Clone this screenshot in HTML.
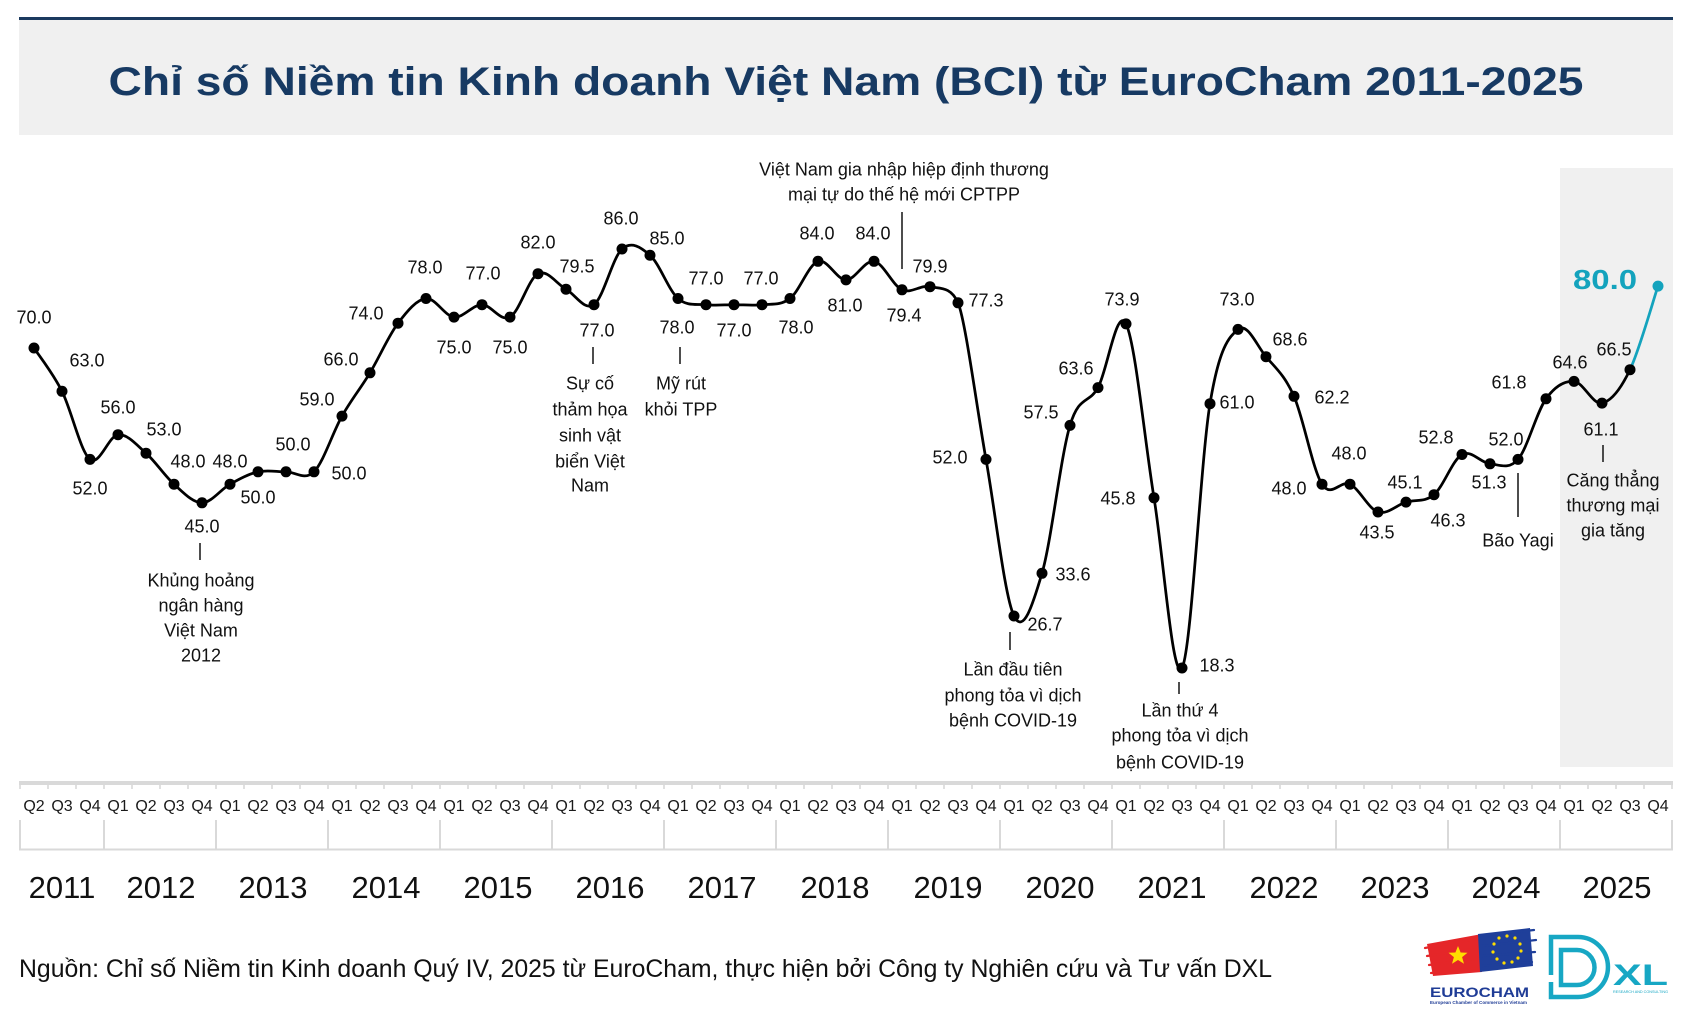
<!DOCTYPE html>
<html>
<head>
<meta charset="utf-8">
<style>
html,body{margin:0;padding:0;background:#fff;}
svg{display:block;}
.lbl{font-family:"Liberation Sans",Arial,sans-serif;font-size:18px;fill:#111;text-anchor:middle;}
.ann{font-family:"Liberation Sans",Arial,sans-serif;font-size:18px;fill:#111;text-anchor:middle;}
.q{font-family:"Liberation Sans",Arial,sans-serif;font-size:16px;fill:#1a1a1a;text-anchor:middle;}
.yr{font-family:"Liberation Sans",Arial,sans-serif;font-size:31px;fill:#111;text-anchor:middle;}
</style>
</head>
<body>
<svg width="1693" height="1023" viewBox="0 0 1693 1023" xmlns="http://www.w3.org/2000/svg">
<rect x="0" y="0" width="1693" height="1023" fill="#ffffff"/>
<!-- header -->
<rect x="19" y="17" width="1654" height="3" fill="#1b3a5f"/>
<rect x="19" y="20" width="1654" height="115" fill="#f0f0f0"/>
<text x="846" y="95" font-family="'Liberation Sans',Arial,sans-serif" font-size="40" font-weight="bold" fill="#173a63" text-anchor="middle" textLength="1475" lengthAdjust="spacingAndGlyphs">Chỉ số Niềm tin Kinh doanh Việt Nam (BCI) từ EuroCham 2011-2025</text>

<!-- 2025 shading -->
<rect x="1560" y="168" width="113" height="599" fill="#f0f0f0"/>

<!-- axis band -->
<rect x="19" y="781" width="1654" height="4" fill="#d9d9d9"/>
<g stroke="#d9d9d9" stroke-width="1.6">
<line x1="20" y1="784" x2="20" y2="789"/><line x1="48" y1="784" x2="48" y2="789"/><line x1="76" y1="784" x2="76" y2="789"/><line x1="104" y1="784" x2="104" y2="789"/><line x1="132" y1="784" x2="132" y2="789"/><line x1="160" y1="784" x2="160" y2="789"/><line x1="188" y1="784" x2="188" y2="789"/><line x1="216" y1="784" x2="216" y2="789"/><line x1="244" y1="784" x2="244" y2="789"/><line x1="272" y1="784" x2="272" y2="789"/><line x1="300" y1="784" x2="300" y2="789"/><line x1="328" y1="784" x2="328" y2="789"/><line x1="356" y1="784" x2="356" y2="789"/><line x1="384" y1="784" x2="384" y2="789"/><line x1="412" y1="784" x2="412" y2="789"/><line x1="440" y1="784" x2="440" y2="789"/><line x1="468" y1="784" x2="468" y2="789"/><line x1="496" y1="784" x2="496" y2="789"/><line x1="524" y1="784" x2="524" y2="789"/><line x1="552" y1="784" x2="552" y2="789"/><line x1="580" y1="784" x2="580" y2="789"/><line x1="608" y1="784" x2="608" y2="789"/><line x1="636" y1="784" x2="636" y2="789"/><line x1="664" y1="784" x2="664" y2="789"/><line x1="692" y1="784" x2="692" y2="789"/><line x1="720" y1="784" x2="720" y2="789"/><line x1="748" y1="784" x2="748" y2="789"/><line x1="776" y1="784" x2="776" y2="789"/><line x1="804" y1="784" x2="804" y2="789"/><line x1="832" y1="784" x2="832" y2="789"/><line x1="860" y1="784" x2="860" y2="789"/><line x1="888" y1="784" x2="888" y2="789"/><line x1="916" y1="784" x2="916" y2="789"/><line x1="944" y1="784" x2="944" y2="789"/><line x1="972" y1="784" x2="972" y2="789"/><line x1="1000" y1="784" x2="1000" y2="789"/><line x1="1028" y1="784" x2="1028" y2="789"/><line x1="1056" y1="784" x2="1056" y2="789"/><line x1="1084" y1="784" x2="1084" y2="789"/><line x1="1112" y1="784" x2="1112" y2="789"/><line x1="1140" y1="784" x2="1140" y2="789"/><line x1="1168" y1="784" x2="1168" y2="789"/><line x1="1196" y1="784" x2="1196" y2="789"/><line x1="1224" y1="784" x2="1224" y2="789"/><line x1="1252" y1="784" x2="1252" y2="789"/><line x1="1280" y1="784" x2="1280" y2="789"/><line x1="1308" y1="784" x2="1308" y2="789"/><line x1="1336" y1="784" x2="1336" y2="789"/><line x1="1364" y1="784" x2="1364" y2="789"/><line x1="1392" y1="784" x2="1392" y2="789"/><line x1="1420" y1="784" x2="1420" y2="789"/><line x1="1448" y1="784" x2="1448" y2="789"/><line x1="1476" y1="784" x2="1476" y2="789"/><line x1="1504" y1="784" x2="1504" y2="789"/><line x1="1532" y1="784" x2="1532" y2="789"/><line x1="1560" y1="784" x2="1560" y2="789"/><line x1="1588" y1="784" x2="1588" y2="789"/><line x1="1616" y1="784" x2="1616" y2="789"/><line x1="1644" y1="784" x2="1644" y2="789"/><line x1="1672" y1="784" x2="1672" y2="789"/>
</g>

<!-- year boxes -->
<g stroke="#d9d9d9" stroke-width="2">
<line x1="19" y1="849.5" x2="1673" y2="849.5"/>
<line x1="20" y1="820" x2="20" y2="850"/><line x1="104" y1="820" x2="104" y2="850"/><line x1="216" y1="820" x2="216" y2="850"/><line x1="328" y1="820" x2="328" y2="850"/><line x1="440" y1="820" x2="440" y2="850"/><line x1="552" y1="820" x2="552" y2="850"/><line x1="664" y1="820" x2="664" y2="850"/><line x1="776" y1="820" x2="776" y2="850"/><line x1="888" y1="820" x2="888" y2="850"/><line x1="1000" y1="820" x2="1000" y2="850"/><line x1="1112" y1="820" x2="1112" y2="850"/><line x1="1224" y1="820" x2="1224" y2="850"/><line x1="1336" y1="820" x2="1336" y2="850"/><line x1="1448" y1="820" x2="1448" y2="850"/><line x1="1560" y1="820" x2="1560" y2="850"/><line x1="1672" y1="820" x2="1672" y2="850"/>
</g>

<!-- quarter labels -->
<g class="q">
<text class="q" x="34" y="811">Q2</text><text class="q" x="62" y="811">Q3</text><text class="q" x="90" y="811">Q4</text>
<text class="q" x="118" y="811">Q1</text><text class="q" x="146" y="811">Q2</text><text class="q" x="174" y="811">Q3</text><text class="q" x="202" y="811">Q4</text>
<text class="q" x="230" y="811">Q1</text><text class="q" x="258" y="811">Q2</text><text class="q" x="286" y="811">Q3</text><text class="q" x="314" y="811">Q4</text>
<text class="q" x="342" y="811">Q1</text><text class="q" x="370" y="811">Q2</text><text class="q" x="398" y="811">Q3</text><text class="q" x="426" y="811">Q4</text>
<text class="q" x="454" y="811">Q1</text><text class="q" x="482" y="811">Q2</text><text class="q" x="510" y="811">Q3</text><text class="q" x="538" y="811">Q4</text>
<text class="q" x="566" y="811">Q1</text><text class="q" x="594" y="811">Q2</text><text class="q" x="622" y="811">Q3</text><text class="q" x="650" y="811">Q4</text>
<text class="q" x="678" y="811">Q1</text><text class="q" x="706" y="811">Q2</text><text class="q" x="734" y="811">Q3</text><text class="q" x="762" y="811">Q4</text>
<text class="q" x="790" y="811">Q1</text><text class="q" x="818" y="811">Q2</text><text class="q" x="846" y="811">Q3</text><text class="q" x="874" y="811">Q4</text>
<text class="q" x="902" y="811">Q1</text><text class="q" x="930" y="811">Q2</text><text class="q" x="958" y="811">Q3</text><text class="q" x="986" y="811">Q4</text>
<text class="q" x="1014" y="811">Q1</text><text class="q" x="1042" y="811">Q2</text><text class="q" x="1070" y="811">Q3</text><text class="q" x="1098" y="811">Q4</text>
<text class="q" x="1126" y="811">Q1</text><text class="q" x="1154" y="811">Q2</text><text class="q" x="1182" y="811">Q3</text><text class="q" x="1210" y="811">Q4</text>
<text class="q" x="1238" y="811">Q1</text><text class="q" x="1266" y="811">Q2</text><text class="q" x="1294" y="811">Q3</text><text class="q" x="1322" y="811">Q4</text>
<text class="q" x="1350" y="811">Q1</text><text class="q" x="1378" y="811">Q2</text><text class="q" x="1406" y="811">Q3</text><text class="q" x="1434" y="811">Q4</text>
<text class="q" x="1462" y="811">Q1</text><text class="q" x="1490" y="811">Q2</text><text class="q" x="1518" y="811">Q3</text><text class="q" x="1546" y="811">Q4</text>
<text class="q" x="1574" y="811">Q1</text><text class="q" x="1602" y="811">Q2</text><text class="q" x="1630" y="811">Q3</text><text class="q" x="1658" y="811">Q4</text>
</g>

<!-- year labels -->
<text class="yr" x="62" y="898">2011</text>
<text class="yr" x="161" y="898">2012</text>
<text class="yr" x="273" y="898">2013</text>
<text class="yr" x="386" y="898">2014</text>
<text class="yr" x="498" y="898">2015</text>
<text class="yr" x="610" y="898">2016</text>
<text class="yr" x="722" y="898">2017</text>
<text class="yr" x="835" y="898">2018</text>
<text class="yr" x="948" y="898">2019</text>
<text class="yr" x="1060" y="898">2020</text>
<text class="yr" x="1172" y="898">2021</text>
<text class="yr" x="1284" y="898">2022</text>
<text class="yr" x="1395" y="898">2023</text>
<text class="yr" x="1506" y="898">2024</text>
<text class="yr" x="1617" y="898">2025</text>

<!-- main line -->
<path fill="none" stroke="#000" stroke-width="2.75" stroke-linejoin="round" stroke-linecap="round"
d="M34,348 C38.67,355.2 52.67,372.7 62,391.3 S80.67,452.2 90,459.4 S108.67,435.7 118,434.7 S136.67,445 146,453.2 S164.67,475.9 174,484.2 S192.67,502.8 202,502.8 S220.67,489.4 230,484.2 S248.67,473.9 258,471.8 S276.67,471.8 286,471.8 S304.67,481.1 314,471.8 S332.67,432.6 342,416.1 S360.67,388.3 370,372.8 S388.67,335.6 398,323.2 S416.67,299.5 426,298.5 S444.67,316.1 454,317.1 S472.67,304.7 482,304.7 S500.67,322.3 510,317.1 S528.67,278.4 538,273.7 S556.67,284 566,289.2 S584.67,311.4 594,304.7 S612.67,257.3 622,249 S640.67,247 650,255.2 S668.67,290.3 678,298.5 S696.67,303.7 706,304.7 S724.67,304.7 734,304.7 S752.67,305.7 762,304.7 S780.67,305.7 790,298.5 S808.67,264.4 818,261.3 S836.67,279.9 846,279.9 S864.67,259.7 874,261.3 S892.67,285.6 902,289.8 S920.67,284.5 930,286.7 S950.67,286 958,302.8 S976.67,407.2 986,459.4 S1004.67,597 1014,616 S1032.67,605.1 1042,573.3 S1060.67,456.4 1070,425.4 S1088.67,404.5 1098,387.6 S1116.67,305.5 1126,323.9 S1144.67,440.5 1154,497.8 S1172.67,683.7 1182,668 S1200.67,460.1 1210,403.7 S1228.67,337.2 1238,329.4 S1256.67,345.6 1266,356.7 S1284.67,375.1 1294,396.3 S1312.67,469.6 1322,484.2 S1340.67,479.6 1350,484.2 S1368.67,509 1378,512 S1396.67,505 1406,502.1 S1424.67,502.6 1434,494.7 S1452.67,459.7 1462,454.5 S1480.67,463 1490,463.8 S1508.67,470.2 1518,459.4 S1536.67,411.8 1546,398.8 S1564.67,380.7 1574,381.4 S1592.67,405.1 1602,403.1 S1620.67,389.2 1630,369.7"/>
<path fill="none" stroke="#14a3bd" stroke-width="2.75" stroke-linecap="round" d="M1630,369.7 C1639.33,350.2 1653.33,300 1658,286.1"/>

<!-- markers -->
<g fill="#000">
<circle cx="34" cy="348" r="5.5"/><circle cx="62" cy="391.3" r="5.5"/><circle cx="90" cy="459.4" r="5.5"/><circle cx="118" cy="434.7" r="5.5"/><circle cx="146" cy="453.2" r="5.5"/><circle cx="174" cy="484.2" r="5.5"/><circle cx="202" cy="502.8" r="5.5"/><circle cx="230" cy="484.2" r="5.5"/><circle cx="258" cy="471.8" r="5.5"/><circle cx="286" cy="471.8" r="5.5"/><circle cx="314" cy="471.8" r="5.5"/><circle cx="342" cy="416.1" r="5.5"/><circle cx="370" cy="372.8" r="5.5"/><circle cx="398" cy="323.2" r="5.5"/><circle cx="426" cy="298.5" r="5.5"/><circle cx="454" cy="317.1" r="5.5"/><circle cx="482" cy="304.7" r="5.5"/><circle cx="510" cy="317.1" r="5.5"/><circle cx="538" cy="273.7" r="5.5"/><circle cx="566" cy="289.2" r="5.5"/><circle cx="594" cy="304.7" r="5.5"/><circle cx="622" cy="249" r="5.5"/><circle cx="650" cy="255.2" r="5.5"/><circle cx="678" cy="298.5" r="5.5"/><circle cx="706" cy="304.7" r="5.5"/><circle cx="734" cy="304.7" r="5.5"/><circle cx="762" cy="304.7" r="5.5"/><circle cx="790" cy="298.5" r="5.5"/><circle cx="818" cy="261.3" r="5.5"/><circle cx="846" cy="279.9" r="5.5"/><circle cx="874" cy="261.3" r="5.5"/><circle cx="902" cy="289.8" r="5.5"/><circle cx="930" cy="286.7" r="5.5"/><circle cx="958" cy="302.8" r="5.5"/><circle cx="986" cy="459.4" r="5.5"/><circle cx="1014" cy="616" r="5.5"/><circle cx="1042" cy="573.3" r="5.5"/><circle cx="1070" cy="425.4" r="5.5"/><circle cx="1098" cy="387.6" r="5.5"/><circle cx="1126" cy="323.9" r="5.5"/><circle cx="1154" cy="497.8" r="5.5"/><circle cx="1182" cy="668" r="5.5"/><circle cx="1210" cy="403.7" r="5.5"/><circle cx="1238" cy="329.4" r="5.5"/><circle cx="1266" cy="356.7" r="5.5"/><circle cx="1294" cy="396.3" r="5.5"/><circle cx="1322" cy="484.2" r="5.5"/><circle cx="1350" cy="484.2" r="5.5"/><circle cx="1378" cy="512" r="5.5"/><circle cx="1406" cy="502.1" r="5.5"/><circle cx="1434" cy="494.7" r="5.5"/><circle cx="1462" cy="454.5" r="5.5"/><circle cx="1490" cy="463.8" r="5.5"/><circle cx="1518" cy="459.4" r="5.5"/><circle cx="1546" cy="398.8" r="5.5"/><circle cx="1574" cy="381.4" r="5.5"/><circle cx="1602" cy="403.1" r="5.5"/><circle cx="1630" cy="369.7" r="5.5"/>
</g>
<circle cx="1658" cy="286.1" r="5.5" fill="#14a3bd"/>

<!-- data labels -->
<text class="lbl" x="34" y="323.5">70.0</text>
<text class="lbl" x="87" y="366.5">63.0</text>
<text class="lbl" x="90" y="494.5">52.0</text>
<text class="lbl" x="118" y="413.5">56.0</text>
<text class="lbl" x="164" y="435.5">53.0</text>
<text class="lbl" x="188" y="467.5">48.0</text>
<text class="lbl" x="202" y="532.5">45.0</text>
<text class="lbl" x="230" y="467.5">48.0</text>
<text class="lbl" x="258" y="503.5">50.0</text>
<text class="lbl" x="293" y="450.5">50.0</text>
<text class="lbl" x="349" y="479.5">50.0</text>
<text class="lbl" x="317" y="405.5">59.0</text>
<text class="lbl" x="341" y="365.5">66.0</text>
<text class="lbl" x="366" y="319.5">74.0</text>
<text class="lbl" x="425" y="273.5">78.0</text>
<text class="lbl" x="454" y="353.5">75.0</text>
<text class="lbl" x="483" y="279.5">77.0</text>
<text class="lbl" x="510" y="353.5">75.0</text>
<text class="lbl" x="538" y="248.5">82.0</text>
<text class="lbl" x="577" y="272.5">79.5</text>
<text class="lbl" x="597" y="336.5">77.0</text>
<text class="lbl" x="621" y="224.5">86.0</text>
<text class="lbl" x="667" y="244.5">85.0</text>
<text class="lbl" x="677" y="333.5">78.0</text>
<text class="lbl" x="706" y="284.5">77.0</text>
<text class="lbl" x="734" y="336.5">77.0</text>
<text class="lbl" x="761" y="284.5">77.0</text>
<text class="lbl" x="796" y="333.5">78.0</text>
<text class="lbl" x="817" y="239.5">84.0</text>
<text class="lbl" x="845" y="311.5">81.0</text>
<text class="lbl" x="873" y="239.5">84.0</text>
<text class="lbl" x="904" y="321.5">79.4</text>
<text class="lbl" x="930" y="272.5">79.9</text>
<text class="lbl" x="986" y="306.5">77.3</text>
<text class="lbl" x="950" y="463.5">52.0</text>
<text class="lbl" x="1045" y="630.5">26.7</text>
<text class="lbl" x="1073" y="580.5">33.6</text>
<text class="lbl" x="1041" y="418.5">57.5</text>
<text class="lbl" x="1076" y="374.5">63.6</text>
<text class="lbl" x="1122" y="305.5">73.9</text>
<text class="lbl" x="1118" y="504.5">45.8</text>
<text class="lbl" x="1217" y="671.5">18.3</text>
<text class="lbl" x="1237" y="408.5">61.0</text>
<text class="lbl" x="1237" y="305.5">73.0</text>
<text class="lbl" x="1290" y="345.5">68.6</text>
<text class="lbl" x="1332" y="403.5">62.2</text>
<text class="lbl" x="1289" y="494.5">48.0</text>
<text class="lbl" x="1349" y="459.5">48.0</text>
<text class="lbl" x="1377" y="538.5">43.5</text>
<text class="lbl" x="1405" y="488.5">45.1</text>
<text class="lbl" x="1448" y="526.5">46.3</text>
<text class="lbl" x="1436" y="443.5">52.8</text>
<text class="lbl" x="1489" y="488.5">51.3</text>
<text class="lbl" x="1506" y="445.5">52.0</text>
<text class="lbl" x="1509" y="388.5">61.8</text>
<text class="lbl" x="1570" y="368.5">64.6</text>
<text class="lbl" x="1601" y="435.5">61.1</text>
<text class="lbl" x="1614" y="355.5">66.5</text>
<text x="1605" y="289" font-family="'Liberation Sans',Arial,sans-serif" font-size="28" font-weight="bold" fill="#14a3bd" text-anchor="middle" textLength="64" lengthAdjust="spacingAndGlyphs">80.0</text>

<!-- annotation ticks -->
<g stroke="#222" stroke-width="1.6">
<line x1="200" y1="543" x2="200" y2="560"/>
<line x1="593" y1="347" x2="593" y2="364"/>
<line x1="680" y1="347" x2="680" y2="364"/>
<line x1="902" y1="212" x2="902" y2="269"/>
<line x1="1010" y1="632" x2="1010" y2="650"/>
<line x1="1179" y1="682" x2="1179" y2="694"/>
<line x1="1518" y1="473" x2="1518" y2="517"/>
<line x1="1603" y1="445" x2="1603" y2="462"/>
</g>

<!-- annotations -->
<text class="ann" x="201" y="586.5">Khủng hoảng</text>
<text class="ann" x="201" y="611.5">ngân hàng</text>
<text class="ann" x="201" y="636.5">Việt Nam</text>
<text class="ann" x="201" y="661.5">2012</text>

<text class="ann" x="590" y="389.5">Sự cố</text>
<text class="ann" x="590" y="415.5">thảm họa</text>
<text class="ann" x="590" y="441.5">sinh vật</text>
<text class="ann" x="590" y="467.5">biển Việt</text>
<text class="ann" x="590" y="491.5">Nam</text>

<text class="ann" x="681" y="389.5">Mỹ rút</text>
<text class="ann" x="681" y="415.5">khỏi TPP</text>

<text class="ann" x="904" y="175.5">Việt Nam gia nhập hiệp định thương</text>
<text class="ann" x="904" y="200.5">mại tự do thế hệ mới CPTPP</text>

<text class="ann" x="1013" y="675.5">Lần đầu tiên</text>
<text class="ann" x="1013" y="701.5">phong tỏa vì dịch</text>
<text class="ann" x="1013" y="726.5">bệnh COVID-19</text>

<text class="ann" x="1180" y="716.5">Lần thứ 4</text>
<text class="ann" x="1180" y="741.5">phong tỏa vì dịch</text>
<text class="ann" x="1180" y="768.5">bệnh COVID-19</text>

<text class="ann" x="1518" y="546.5">Bão Yagi</text>

<text class="ann" x="1613" y="486.5">Căng thẳng</text>
<text class="ann" x="1613" y="511.5">thương mại</text>
<text class="ann" x="1613" y="536.5">gia tăng</text>

<!-- footer -->
<text x="19" y="977" font-family="'Liberation Sans',Arial,sans-serif" font-size="25" fill="#111" textLength="1253" lengthAdjust="spacingAndGlyphs">Nguồn: Chỉ số Niềm tin Kinh doanh Quý IV, 2025 từ EuroCham, thực hiện bởi Công ty Nghiên cứu và Tư vấn DXL</text>

<!-- EUROCHAM logo -->
<g>
<polygon points="1427,944 1482,934 1482,972 1433,976" fill="#e52629"/>
<g stroke="#e52629" stroke-width="2.2" stroke-linecap="round">
<line x1="1425" y1="948" x2="1480" y2="938"/><line x1="1427" y1="956" x2="1482" y2="948"/><line x1="1429" y1="965" x2="1482" y2="958"/><line x1="1431" y1="973" x2="1480" y2="968"/>
</g>
<polygon points="1478,934 1530,928 1533,966 1480,972" fill="#1f3f9a"/>
<g stroke="#1f3f9a" stroke-width="2.2" stroke-linecap="round">
<line x1="1480" y1="936" x2="1534" y2="930"/><line x1="1482" y1="946" x2="1536" y2="940"/><line x1="1482" y1="956" x2="1535" y2="952"/><line x1="1482" y1="966" x2="1532" y2="962"/>
</g>
<polygon points="1458,946 1460.6,952.5 1467.5,952.8 1462.1,957.1 1464,963.8 1458,960 1452,963.8 1453.9,957.1 1448.5,952.8 1455.4,952.5" fill="#ffdd00"/>
<g fill="#ffdd00">
<circle cx="1507" cy="936" r="1.6"/><circle cx="1515" cy="938" r="1.6"/><circle cx="1520" cy="944" r="1.6"/><circle cx="1521" cy="951" r="1.6"/><circle cx="1518" cy="958" r="1.6"/><circle cx="1512" cy="962" r="1.6"/><circle cx="1504" cy="963" r="1.6"/><circle cx="1497" cy="959" r="1.6"/><circle cx="1493" cy="952" r="1.6"/><circle cx="1494" cy="944" r="1.6"/><circle cx="1499" cy="938" r="1.6"/>
</g>
<text x="1430" y="997" font-family="'Liberation Sans',Arial,sans-serif" font-size="14" font-weight="bold" fill="#1f3c96" textLength="99" lengthAdjust="spacingAndGlyphs">EUROCHAM</text>
<text x="1430" y="1004" font-family="'Liberation Sans',Arial,sans-serif" font-size="4.5" font-weight="bold" fill="#1f3c96" textLength="97" lengthAdjust="spacingAndGlyphs">European Chamber of Commerce in Vietnam</text>
</g>

<!-- DXL logo -->
<g fill="none" stroke="#17a7c4" stroke-width="4.5">
<path d="M1551,975 V937 H1578 A30,30 0 0 1 1578,997 H1551 V982"/>
<path d="M1561,950 H1577 A17,17 0 0 1 1577,985 H1561 Z"/>
</g>
<text x="1613" y="985" font-family="'Liberation Sans',Arial,sans-serif" font-size="30" font-weight="bold" fill="#17a7c4" textLength="55" lengthAdjust="spacingAndGlyphs">XL</text>
<text x="1613" y="993" font-family="'Liberation Sans',Arial,sans-serif" font-size="4" fill="#17a7c4" textLength="55" lengthAdjust="spacingAndGlyphs">RESEARCH AND CONSULTING</text>
</svg>
</body>
</html>
